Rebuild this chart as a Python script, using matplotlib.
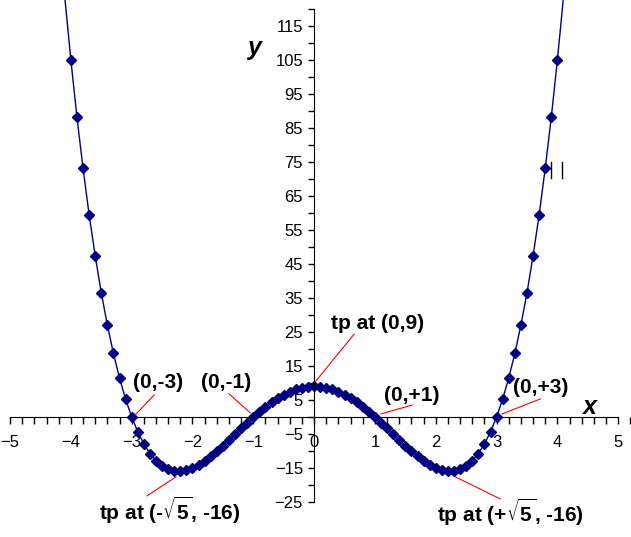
import numpy as np
import matplotlib
matplotlib.use('Agg')
from matplotlib import pyplot as plt
from matplotlib.ticker import MultipleLocator

plt.rcParams['font.family'] = ['Liberation Sans', 'DejaVu Sans']
plt.rcParams['mathtext.default'] = 'regular'

# points (markers every 0.1 from -4 to 4)
x_pts = [-4.0, -3.9, -3.8, -3.7, -3.6, -3.5, -3.4, -3.3, -3.2, -3.1,
         -3.0, -2.9, -2.8, -2.7, -2.6, -2.5, -2.4, -2.3, -2.2, -2.1,
         -2.0, -1.9, -1.8, -1.7, -1.6, -1.5, -1.4, -1.3, -1.2, -1.1,
         -1.0, -0.9, -0.8, -0.7, -0.6, -0.5, -0.4, -0.3, -0.2, -0.1,
         0.0, 0.1, 0.2, 0.3, 0.4, 0.5, 0.6, 0.7, 0.8, 0.9,
         1.0, 1.1, 1.2, 1.3, 1.4, 1.5, 1.6, 1.7, 1.8, 1.9,
         2.0, 2.1, 2.2, 2.3, 2.4, 2.5, 2.6, 2.7, 2.8, 2.9,
         3.0, 3.1, 3.2, 3.3, 3.4, 3.5, 3.6, 3.7, 3.8, 3.9, 4.0]
y_pts = [105.0, 88.24, 73.11, 59.52, 47.36, 36.56, 27.03, 18.69, 11.46, 5.25,
         0.0, -4.37, -7.93, -10.76, -12.90, -14.44, -15.42, -15.92, -15.97, -15.65,
         -15.0, -14.07, -12.90, -11.55, -10.05, -8.44, -6.76, -5.04, -3.33, -1.64,
         0.0, 1.56, 3.01, 4.34, 5.53, 6.56, 7.43, 8.11, 8.60, 8.90,
         9.0, 8.90, 8.60, 8.11, 7.43, 6.56, 5.53, 4.34, 3.01, 1.56,
         0.0, -1.64, -3.33, -5.04, -6.76, -8.44, -10.05, -11.55, -12.90, -14.07,
         -15.0, -15.65, -15.97, -15.92, -15.42, -14.44, -12.90, -10.76, -7.93, -4.37,
         0.0, 5.25, 11.46, 18.69, 27.03, 36.56, 47.36, 59.52, 73.11, 88.24, 105.0]
# the curve runs on past the last markers, off the top
x_ends = [-4.1, 4.1]
y_ends = [123.48, 123.48]

x_ticks = [-5, -4, -3, -2, -1, 0, 1, 2, 3, 4, 5]
y_ticks = [-25, -15, -5, 5, 15, 25, 35, 45, 55, 65, 75, 85, 95, 105, 115]

navy = '#000080'

fig = plt.figure(figsize=(6.31, 5.37), dpi=100)
ax = fig.add_axes([0, 0, 1, 1])

x_line = [x_ends[0]] + x_pts + [x_ends[1]]
y_line = [y_ends[0]] + y_pts + [y_ends[1]]
ax.plot(x_line, y_line, color=navy, lw=1)
ax.plot(x_pts, y_pts, ls='none', marker='D', ms=5.2, color=navy)

ax.set_xlim(-5.165, 5.21)
ax.set_ylim(-35.3, 122.6)

for s in ['top', 'right']:
    ax.spines[s].set_visible(False)
ax.spines['left'].set_position(('data', 0))
ax.spines['bottom'].set_position(('data', 0))
ax.spines['left'].set_bounds(-25, 120)
ax.spines['bottom'].set_bounds(-5, 5)

ax.set_xticks(x_ticks)
ax.xaxis.set_minor_locator(MultipleLocator(0.2))
ax.set_yticks(y_ticks)
ax.set_yticks([-20, -10, 0, 10, 20, 30, 40, 50, 60, 70, 80, 90, 100, 110, 120], minor=True)
ax.tick_params(axis='x', which='both', direction='out', length=5, width=1,
               labelsize=12, pad=8)
ax.tick_params(axis='y', which='both', direction='out', length=4, width=1,
               labelsize=12, pad=4)

ax.text(-0.99, 108.5, 'y', fontsize=18, fontweight='bold', style='italic',
        ha='center', va='center')
ax.text(4.52, 3.0, 'x', fontsize=18, fontweight='bold', style='italic',
        ha='center', va='center')

labels = [
    ('(0,-3)', -2.57, 10.0, (-2.94, -2.63), (0.6, 6.5)),
    ('(0,-1)', -1.45, 10.0, (-1.40, -1.05), (6.8, 1.2)),
    ('tp at (0,9)', 1.05, 27.6, (0.03, 0.66), (10.6, 24.4)),
    ('(0,+1)', 1.60, 6.2, (1.10, 1.61), (0.9, 3.5)),
    ('(0,+3)', 3.73, 8.8, (3.09, 3.72), (0.9, 5.3)),
    (r'tp at (-$\sqrt{5}$, -16)', -2.38, -27.6, (-2.75, -2.27), (-23.2, -17.6)),
    (r'tp at (+$\sqrt{5}$, -16)', 3.22, -28.0, (2.32, 3.06), (-17.6, -24.1)),
]
for txt, tx, ty, lx, ly in labels:
    ax.text(tx, ty, txt, fontsize=15, fontweight='bold', ha='center', va='center')
    ax.plot(lx, ly, color='red', lw=0.8)

# two short black marks right of the curve
ax.plot([3.90, 3.90], [70.3, 75.0], color='black', lw=1)
ax.plot([4.08, 4.08], [70.3, 75.0], color='black', lw=1)

fig.savefig('out.png', dpi=100)
